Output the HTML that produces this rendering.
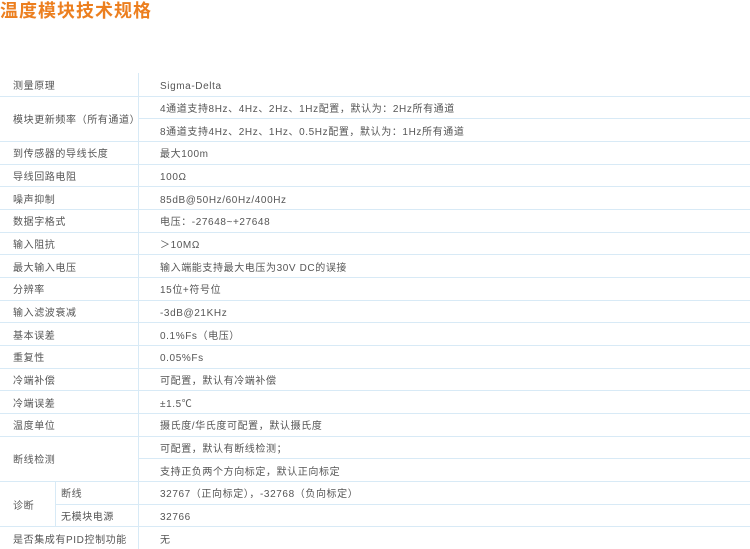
<!DOCTYPE html>
<html><head><meta charset="utf-8"><style>
html,body{margin:0;padding:0;background:#fff;width:750px;height:549px;overflow:hidden;position:relative;font-family:"Liberation Sans","Noto Sans CJK SC",sans-serif;}
.t{position:absolute;left:0;top:-3px;font-size:18px;font-weight:bold;color:#ec7f1f;letter-spacing:1px;font-family:"Noto Sans CJK SC",sans-serif;}
.h{position:absolute;height:1px;background:#d8eaf6;right:0;}
.v{position:absolute;width:1px;background:#d8eaf6;}
.c{position:absolute;font-size:10px;color:#555;line-height:12px;white-space:nowrap;letter-spacing:0.6px;}
</style></head><body>
<div class="t">温度模块技术规格</div>
<div id="g"></div>
<script>
var T=73,H=22.667,g=document.getElementById('g'),s='';
function y(i){return T+H*i;}
var starts={2:138,17:138,19:55};
for(var i=1;i<=21;i++){var x=starts[i]!==undefined?starts[i]:0;s+='<div class="h" style="left:'+x+'px;top:'+Math.round(y(i))+'px"></div>';}
s+='<div class="v" style="left:138px;top:73px;height:476px"></div>';
s+='<div class="v" style="left:55px;top:'+Math.round(y(18))+'px;height:'+Math.round(H*2)+'px"></div>';
function c(x,r,span,txt){var cy=y(r)+H*span/2-3;s+='<div class="c" style="left:'+x+'px;top:'+cy.toFixed(1)+'px">'+txt+'</div>';}
var L=[[0,1,'测量原理'],[1,2,'模块更新频率（所有通道）'],[3,1,'到传感器的导线长度'],[4,1,'导线回路电阻'],[5,1,'噪声抑制'],[6,1,'数据字格式'],[7,1,'输入阻抗'],[8,1,'最大输入电压'],[9,1,'分辨率'],[10,1,'输入滤波衰减'],[11,1,'基本误差'],[12,1,'重复性'],[13,1,'冷端补偿'],[14,1,'冷端误差'],[15,1,'温度单位'],[16,2,'断线检测'],[18,2,'诊断'],[20,1,'是否集成有PID控制功能']];
L.forEach(function(a){c(13,a[0],a[1],a[2]);});
c(61,18,1,'断线');c(61,19,1,'无模块电源');
var R=['Sigma-Delta','4通道支持8Hz、4Hz、2Hz、1Hz配置，默认为：2Hz所有通道','8通道支持4Hz、2Hz、1Hz、0.5Hz配置，默认为：1Hz所有通道','最大100m','100Ω','85dB@50Hz/60Hz/400Hz','电压：-27648~+27648','＞10MΩ','输入端能支持最大电压为30V DC的误接','15位+符号位','-3dB@21KHz','0.1%Fs（电压）','0.05%Fs','可配置，默认有冷端补偿','±1.5℃','摄氏度/华氏度可配置，默认摄氏度','可配置，默认有断线检测；','支持正负两个方向标定，默认正向标定','32767（正向标定），-32768（负向标定）','32766','无'];
R.forEach(function(t,i){c(160,i,1,t);});
g.innerHTML=s;
</script>
</body></html>
